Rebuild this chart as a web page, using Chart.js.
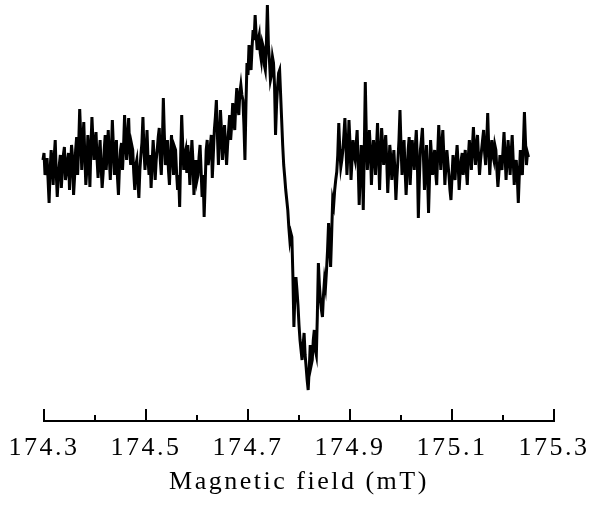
<!DOCTYPE html>
<html>
<head>
<meta charset="utf-8">
<title>EPR spectrum</title>
<script src="https://cdn.jsdelivr.net/npm/chart.js@4.4.1/dist/chart.umd.min.js"></script>
<style>
  html, body { margin: 0; padding: 0; background: #fff; }
  canvas { display: block; }
</style>
</head>
<body>
<canvas id="epr" width="591" height="505"></canvas>
<script>
// Field sweep: first sample and spacing (mT)
const fieldStart = 174.298;
const fieldStep = 0.002;

// First-derivative EPR signal (arbitrary units)
const signal = [
  5, 12, -10, -2, 7, -15, -38, -5, 15, 2, -20, 8, 25, -8, -32, -12, 0, 10, -23, -5,
  10, 18, -15, -8, 5, 12, -25, -3, 20, 8, -30, -12, 15, 28, -10, 20, 56, 30, -5, 22,
  43, 10, -20, -5, 30, 12, -22, 18, 48, 25, 5, 20, 33, 6, -13, 10, 25, -2, -23, -8,
  15, 30, -5, 15, 35, 8, -15, 12, 45, 20, -10, 8, 25, -12, -30, -2, 15, 22, -5, 18,
  50, 25, 5, 28, 47, 15, 0, 20, 15, -8, -25, 0, 5, -15, -33, -5, 10, 22, 48, 15,
  -5, 12, 35, 5, -10, 10, -23, 2, 25, 8, -15, 5, 15, 28, 37, 5, -10, 20, 67, 30,
  0, 12, 25, -5, -20, 8, 30, 10, -10, 18, 15, -8, -25, -10, -42, 10, 50, 20, -5, 10,
  15, -8, 20, 5, -20, 2, 25, 5, -30, -12, 5, -15, -10, 8, 20, -5, -32, -10, -52, -20,
  15, 25, 0, 10, 18, 30, -13, 10, 35, 48, 65, 30, 0, 25, 55, 35, 5, 22, 40, 20,
  0, 20, 35, 50, 25, 40, 62, 45, 35, 60, 77, 58, 50, 72, 80, 70, 65, 40, 5, 60,
  102, 90, 120, 105, 95, 118, 135, 125, 150, 130, 115, 125, 130, 112, 105, 122, 118, 100, 95, 120,
  160, 120, 105, 85, 90, 108, 102, 80, 30, 60, 78, 92, 95, 70, 45, 20, 0, -12, -25, -35,
  -45, -62, -75, -68, -72, -110, -162, -130, -112, -125, -140, -160, -175, -185, -195, -180, -168, -190, -202, -215,
  -225, -205, -180, -200, -195, -175, -165, -185, -190, -150, -98, -120, -135, -145, -152, -130, -115, -122, -105, -85,
  -58, -80, -102, -70, -35, -40, -25, -15, -7, 10, 42, 15, -2, 5, 15, 30, 47, 20, -10, 12,
  45, 22, -15, 5, 25, 10, 5, 20, 35, 0, -40, -10, 20, 5, -45, 15, 83, 30, -5, 12,
  35, 15, -20, 5, 25, 12, -10, 18, 42, 10, -25, 8, 37, 20, 0, 15, 30, 5, -28, -5,
  20, 8, -15, 2, 15, -5, -35, -12, 5, 25, 55, 20, -10, 10, 25, -5, -30, -8, 15, 28,
  -20, 5, 25, 10, -5, 18, 35, 5, -53, -15, 15, 25, 37, 8, -25, -5, 20, -10, -48, -12,
  25, 8, -10, 5, 15, -8, -20, 12, 40, 18, -5, 20, 35, 10, -20, -2, 15, 2, -10, -25,
  -35, -12, 10, -5, -15, 5, 20, 2, -25, -8, 5, 12, -10, 3, 15, -5, -20, 8, 25, 10,
  -5, 18, 38, 15, 0, 20, 30, 8, -10, 5, 15, 25, 35, 12, 0, 22, 52, 18, -10, 10,
  25, 10, 5, 20, 15, -5, -22, -8, 10, 2, -5, 15, 33, 10, -15, 5, 25, 8, -10, 12,
  30, 5, -20, -5, 5, -12, -38, -10, 15, 2, -10, 20, 53, 25, 0, 12, 8
];

// Axis ticks
const majorTicks = [174.3, 174.5, 174.7, 174.9, 175.1, 175.3];
const tickLabels = ['174.3', '174.5', '174.7', '174.9', '175.1', '175.3'];
const minorTicks = [174.4, 174.6, 174.8, 175.0, 175.2];

const points = signal.map((v, i) => ({ x: fieldStart + i * fieldStep, y: v }));

const serif = "'Liberation Serif', 'Times New Roman', serif";
const spacing = '2.5px';

// Wider character spacing for all axis text
const letterSpacing = {
  id: 'letterSpacing',
  beforeLayout(chart) { chart.ctx.letterSpacing = spacing; },
  beforeDraw(chart) { chart.ctx.letterSpacing = spacing; }
};

// Inward tick marks on the field axis
const inwardTicks = {
  id: 'inwardTicks',
  afterDraw(chart) {
    const sx = chart.scales.x;
    const ctx = chart.ctx;
    const base = chart.chartArea.bottom;
    ctx.save();
    ctx.strokeStyle = '#000';
    ctx.lineWidth = 2;
    const mark = (v, len) => {
      const px = Math.round(sx.getPixelForValue(v));
      ctx.beginPath();
      ctx.moveTo(px, base + 1);
      ctx.lineTo(px, base - len);
      ctx.stroke();
    };
    majorTicks.forEach(v => mark(v, 12));
    minorTicks.forEach(v => mark(v, 6));
    ctx.restore();
  }
};

new Chart(document.getElementById('epr'), {
  type: 'line',
  data: {
    datasets: [{
      data: points,
      borderColor: '#000',
      borderWidth: 3,
      pointRadius: 0,
      tension: 0,
      fill: false,
      clip: 8
    }]
  },
  options: {
    responsive: false,
    animation: false,
    events: [],
    layout: { padding: { left: 44, right: 37, top: 0, bottom: 0 } },
    plugins: { legend: { display: false }, tooltip: { enabled: false } },
    scales: {
      x: {
        type: 'linear',
        min: 174.3,
        max: 175.3,
        afterBuildTicks(scale) {
          scale.ticks = majorTicks.map(v => ({ value: v }));
        },
        afterFit(scale) {
          scale.height = 84;
          scale.paddingLeft = 0;
          scale.paddingRight = 0;
        },
        grid: { display: false, drawTicks: false },
        border: { display: true, color: '#000', width: 2 },
        ticks: {
          autoSkip: false,
          maxRotation: 0,
          padding: 12,
          color: '#000',
          font: { family: serif, size: 26 },
          callback: (value, index) => tickLabels[index]
        },
        title: {
          display: true,
          text: 'Magnetic field (mT)',
          color: '#000',
          font: { family: serif, size: 26 },
          padding: { top: 0, bottom: 7 }
        }
      },
      y: {
        display: false,
        min: -256,
        max: 165
      }
    }
  },
  plugins: [letterSpacing, inwardTicks]
});
</script>
</body>
</html>
